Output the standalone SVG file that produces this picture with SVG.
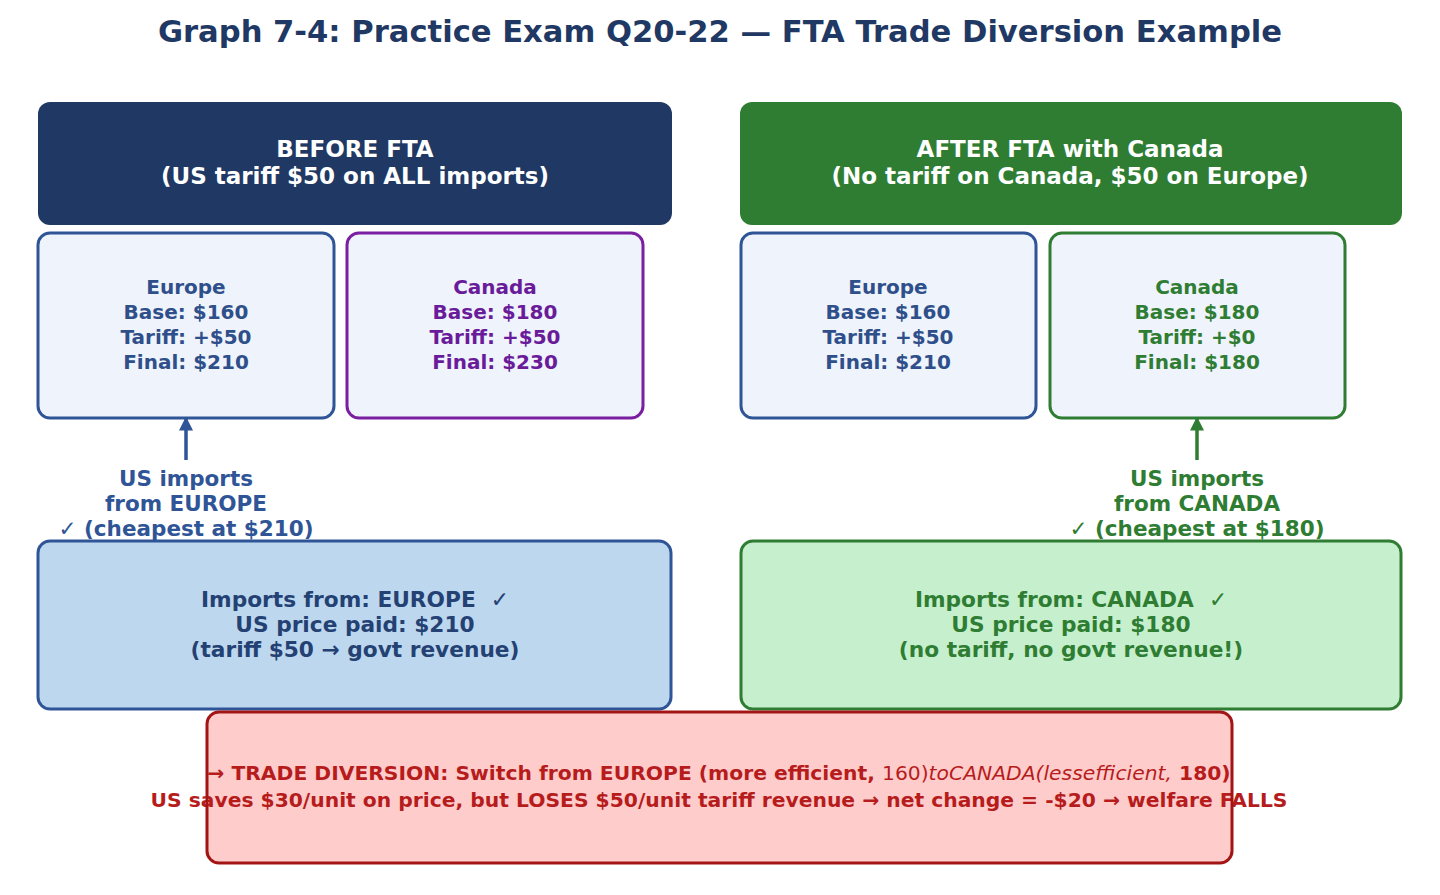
<svg xmlns="http://www.w3.org/2000/svg" width="1440" height="895" viewBox="0 0 1440 895">
<style>
text{font-family:"DejaVu Sans","Liberation Sans",sans-serif;font-weight:bold;text-anchor:middle}
.t{font-size:20px}
.h{font-size:23px;fill:#ffffff}
.l{font-size:21.5px}
.m{font-size:21.7px}
.r{font-size:20.3px;fill:#b71c1c}
.eu{fill:#eef3fc;stroke:#2f5597;stroke-width:3}
.eut{fill:#2f4f8a}
.pu{fill:#eef3fc;stroke:#7b1fa2;stroke-width:3}
.put{fill:#6a1b9a}
.gr{fill:#eef3fc;stroke:#2e7d32;stroke-width:3}
.grt{fill:#2e7d32}
</style>
<defs>
<marker id="ab" viewBox="0 0 10 10" refX="9" refY="5" markerWidth="4" markerHeight="4" orient="auto" markerUnits="strokeWidth"><path d="M0,0 L10,5 L0,10 z" fill="#2f5597"/></marker>
<marker id="ag" viewBox="0 0 10 10" refX="9" refY="5" markerWidth="4" markerHeight="4" orient="auto" markerUnits="strokeWidth"><path d="M0,0 L10,5 L0,10 z" fill="#2e7d32"/></marker>
</defs>
<rect width="1440" height="895" fill="#ffffff"/>
<text x="720" y="42" style="font-size:30.6px;fill:#1f3864">Graph 7-4: Practice Exam Q20-22 — FTA Trade Diversion Example</text>

<g id="before-header">
<rect x="38" y="102" width="634" height="123" rx="12" fill="#1f3864"/>
<text class="h" x="355" y="157">BEFORE FTA</text>
<text class="h" x="355" y="184">(US tariff $50 on ALL imports)</text>
</g>
<g id="before-europe">
<rect class="eu" x="38" y="233" width="296" height="185" rx="12"/>
<text class="t eut" x="186" y="294">Europe</text>
<text class="t eut" x="186" y="319">Base: $160</text>
<text class="t eut" x="186" y="344">Tariff: +$50</text>
<text class="t eut" x="186" y="369">Final: $210</text>
</g>
<g id="before-canada">
<rect class="pu" x="347" y="233" width="296" height="185" rx="12"/>
<text class="t put" x="495" y="294">Canada</text>
<text class="t put" x="495" y="319">Base: $180</text>
<text class="t put" x="495" y="344">Tariff: +$50</text>
<text class="t put" x="495" y="369">Final: $230</text>
</g>
<g id="after-header">
<rect x="740" y="102" width="662" height="123" rx="12" fill="#2e7d32"/>
<text class="h" x="1070" y="157">AFTER FTA with Canada</text>
<text class="h" x="1070" y="184">(No tariff on Canada, $50 on Europe)</text>
</g>
<g id="after-europe">
<rect class="eu" x="741" y="233" width="295" height="185" rx="12"/>
<text class="t eut" x="888" y="294">Europe</text>
<text class="t eut" x="888" y="319">Base: $160</text>
<text class="t eut" x="888" y="344">Tariff: +$50</text>
<text class="t eut" x="888" y="369">Final: $210</text>
</g>
<g id="after-canada">
<rect class="gr" x="1050" y="233" width="295" height="185" rx="12"/>
<text class="t grt" x="1197" y="294">Canada</text>
<text class="t grt" x="1197" y="319">Base: $180</text>
<text class="t grt" x="1197" y="344">Tariff: +$0</text>
<text class="t grt" x="1197" y="369">Final: $180</text>
</g>

<g id="connectors">
<line x1="186" y1="460" x2="186" y2="418" stroke="#2f5597" stroke-width="3.5" marker-end="url(#ab)"/>
<line x1="1197" y1="460" x2="1197" y2="418" stroke="#2e7d32" stroke-width="3.5" marker-end="url(#ag)"/>
</g>

<g id="label-europe">
<text class="l" x="186" y="486" fill="#2f5597">US imports</text>
<text class="l" x="186" y="511" fill="#2f5597">from EUROPE</text>
<text class="l" x="186" y="536" fill="#2f5597" xml:space="preserve">✓ (cheapest at $210)</text>
</g>
<g id="label-canada">
<text class="l grt" x="1197" y="486">US imports</text>
<text class="l grt" x="1197" y="511">from CANADA</text>
<text class="l grt" x="1197" y="536">✓ (cheapest at $180)</text>
</g>

<g id="imports-europe">
<rect x="38" y="541" width="633" height="168" rx="12" fill="#bdd7ee" stroke="#2f5597" stroke-width="3"/>
<text class="m" x="355" y="607" fill="#244173" xml:space="preserve">Imports from: EUROPE  ✓</text>
<text class="m" x="355" y="632" fill="#244173">US price paid: $210</text>
<text class="m" x="355" y="657" fill="#244173">(tariff $50 → govt revenue)</text>
</g>
<g id="imports-canada">
<rect x="741" y="541" width="660" height="168" rx="12" fill="#c6efce" stroke="#2e7d32" stroke-width="3"/>
<text class="m grt" x="1071" y="607" xml:space="preserve">Imports from: CANADA  ✓</text>
<text class="m grt" x="1071" y="632">US price paid: $180</text>
<text class="m grt" x="1071" y="657">(no tariff, no govt revenue!)</text>
</g>

<g id="trade-diversion">
<rect x="207" y="712" width="1025" height="151" rx="12" fill="#ffcccc"/>
<text class="r" x="719" y="780">→ TRADE DIVERSION: Switch from EUROPE (more efficient, <tspan style="font-weight:normal">160)</tspan><tspan style="font-weight:normal;font-style:italic">toCANADA(lessefficient,</tspan> 180)</text>
<text class="r" x="719" y="807">US saves $30/unit on price, but LOSES $50/unit tariff revenue → net change = -$20 → welfare FALLS</text>
<rect x="207" y="712" width="1025" height="151" rx="12" fill="none" stroke="#a31515" stroke-width="3"/>
</g>
</svg>
